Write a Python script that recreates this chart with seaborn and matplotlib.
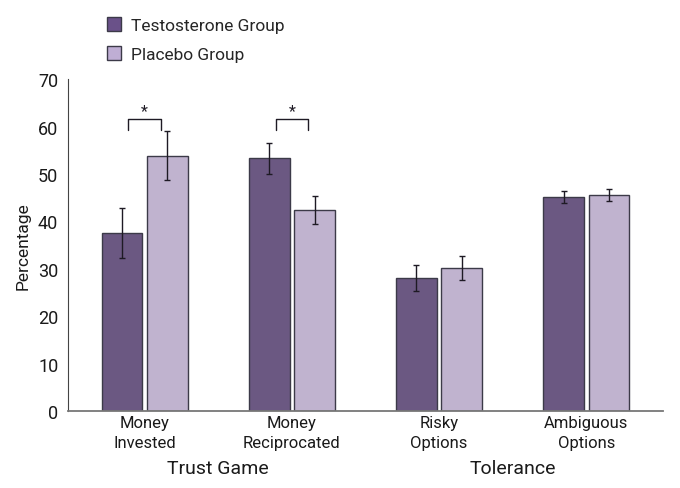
import numpy as np
import pandas as pd
import matplotlib
matplotlib.use("Agg")
import matplotlib.pyplot as plt
import seaborn as sns
from matplotlib.patches import Patch

measures = ["Money\nInvested", "Money\nReciprocated", "Risky\nOptions", "Ambiguous\nOptions"]
groups = ["Testosterone Group", "Placebo Group"]
testo_vals = [37.5, 53.3, 28.0, 45.2]
placebo_vals = [53.9, 42.4, 30.2, 45.6]
testo_err = [5.3, 3.2, 2.7, 1.3]
placebo_err = [5.1, 3.0, 2.6, 1.3]
sections = ["Trust Game", "Tolerance"]
star_pairs = [0, 1]

colors = {"Testosterone Group": "#6a5189", "Placebo Group": "#bfaed4"}

df = pd.DataFrame({
    "measure": measures * 2,
    "group": [groups[0]] * 4 + [groups[1]] * 4,
    "value": testo_vals + placebo_vals,
    "err": testo_err + placebo_err,
})

sns.set_style("white")
plt.rcParams["font.family"] = ["Roboto", "DejaVu Sans"]

fig = plt.figure(figsize=(6.8, 4.89), dpi=100)
ax = fig.add_axes([0.1, 0.1575, 0.875, 0.6785])

sns.barplot(data=df, x="measure", y="value", hue="group", order=measures,
            hue_order=groups, palette=colors, width=0.615, gap=0.1,
            edgecolor="#3c3a48", linewidth=1.0, errorbar=None, legend=False, ax=ax)

# error bars placed on the drawn bars
for cont, g in zip(ax.containers, groups):
    sub = df[df["group"] == g].set_index("measure").loc[measures]
    xs = [p.get_x() + p.get_width() / 2 for p in cont.patches]
    ax.errorbar(xs, sub["value"], yerr=sub["err"], fmt="none", ecolor="#1e1a24",
                elinewidth=1.0, capsize=2.2, capthick=1.0)

# significance brackets
for i in star_pairs:
    x0, x1 = i - 0.11, i + 0.11
    ax.plot([x0, x0, x1, x1], [59.2, 61.5, 61.5, 59.2], color="#1e1a24", lw=1.0)
    ax.text(i, 63.3, "*", ha="center", va="center", fontsize=11.5, color="#1e1a24")

ax.set_xlim(-0.52, 3.52)
ax.set_ylim(0, 70)
ax.set_yticks(range(0, 71, 10))
ax.set_xlabel("")
ax.set_ylabel("Percentage", fontsize=12.5, color="#1a1a1a", labelpad=5)
ax.tick_params(axis="y", length=4, width=1, color="#444444", labelsize=13, labelcolor="#1a1a1a", pad=3)
ax.tick_params(axis="x", length=0, labelsize=12, labelcolor="#1a1a1a", pad=3)
for lbl in ax.get_xticklabels():
    lbl.set_linespacing(1.4)
for s in ["top", "right"]:
    ax.spines[s].set_visible(False)
ax.spines["left"].set_color("#444444")
ax.spines["bottom"].set_color("#777777")
ax.spines["bottom"].set_linewidth(1.3)

for k, name in enumerate(sections):
    ax.text(0.5 + 2 * k, -0.172, name, transform=ax.get_xaxis_transform(),
            ha="center", va="center", fontsize=14, color="#1a1a1a")

handles = [Patch(facecolor=colors[g], edgecolor="#3c3a48", label=g) for g in groups]
fig.legend(handles=handles, loc="upper left", bbox_to_anchor=(0.135, 0.993),
           frameon=False, fontsize=12.5, handlelength=0.85, handleheight=0.85,
           handletextpad=0.55, labelspacing=0.75, borderpad=0.35)

fig.savefig("out.png", dpi=100)
